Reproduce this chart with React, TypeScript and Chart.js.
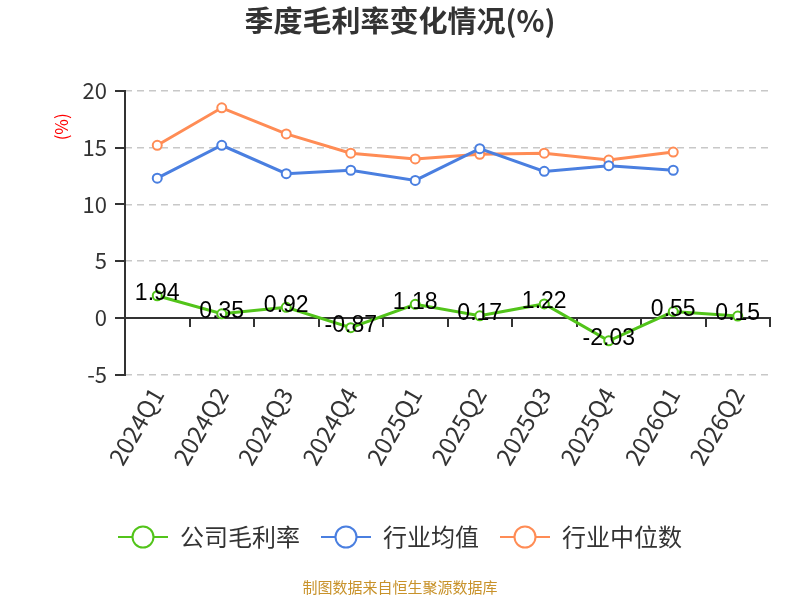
// @ts-nocheck
import React, { useEffect, useRef } from "react";
import { Chart, registerables } from "chart.js";

Chart.register(...registerables);

const quarters = ["2024Q1", "2024Q2", "2024Q3", "2024Q4", "2025Q1", "2025Q2", "2025Q3", "2025Q4", "2026Q1", "2026Q2"];
const companyMargin = [1.94, 0.35, 0.92, -0.87, 1.18, 0.17, 1.22, -2.03, 0.55, 0.15];
const industryAvg = [12.3, 15.2, 12.7, 13.0, 12.1, 14.9, 12.9, 13.4, 13.0, null];
const industryMedian = [15.2, 18.5, 16.2, 14.5, 14.0, 14.4, 14.5, 13.9, 14.6, null];

const GREEN = "#52c41a";
const BLUE = "#4a7fe0";
const ORANGE = "#ff8c55";
const FONT = "'Noto Sans CJK SC', 'Noto Sans', sans-serif";

// legend marker: short line with a hollow circle
const makeMarker = (color) => {
  const c = document.createElement("canvas");
  c.width = 50;
  c.height = 26;
  const ctx = c.getContext("2d");
  ctx.strokeStyle = color;
  ctx.lineWidth = 2;
  ctx.beginPath();
  ctx.moveTo(0, 13);
  ctx.lineTo(50, 13);
  ctx.stroke();
  ctx.beginPath();
  ctx.arc(25, 13, 10.5, 0, Math.PI * 2);
  ctx.fillStyle = "#fff";
  ctx.fill();
  ctx.stroke();
  return c;
};

const valueLabels = {
  id: "valueLabels",
  afterDatasetsDraw(chart) {
    const meta = chart.getDatasetMeta(0);
    const ctx = chart.ctx;
    ctx.save();
    ctx.font = "23px 'Liberation Sans', sans-serif";
    ctx.fillStyle = "#000";
    ctx.textAlign = "center";
    ctx.textBaseline = "middle";
    meta.data.forEach((pt, i) => {
      ctx.fillText(companyMargin[i].toFixed(2), pt.x, pt.y - 2);
    });
    ctx.restore();
  },
};

const unitLabel = {
  id: "unitLabel",
  afterDraw(chart) {
    const { ctx, chartArea } = chart;
    ctx.save();
    ctx.translate(chartArea.left - 63, chartArea.top + 36);
    ctx.rotate(-Math.PI / 2);
    ctx.font = "17px " + FONT;
    ctx.fillStyle = "#ff0000";
    ctx.textAlign = "center";
    ctx.textBaseline = "middle";
    ctx.fillText("(%)", 0, 0);
    ctx.restore();
  },
};

const App = () => {
  const chartRef = useRef(null);
  const chartInstanceRef = useRef(null);

  useEffect(() => {
    if (!chartRef.current) return;
    if (chartInstanceRef.current) chartInstanceRef.current.destroy();

    const mk = (label, data, color) => ({
      label,
      data,
      borderColor: color,
      backgroundColor: "#fff",
      pointBackgroundColor: "#fff",
      pointBorderColor: color,
      pointRadius: 4.5,
      pointBorderWidth: 2,
      borderWidth: 3,
      tension: 0,
      spanGaps: false,
    });

    const markers = [makeMarker(GREEN), makeMarker(BLUE), makeMarker(ORANGE)];

    chartInstanceRef.current = new Chart(chartRef.current, {
      type: "line",
      data: {
        labels: quarters,
        datasets: [
          mk("公司毛利率", companyMargin, GREEN),
          mk("行业均值", industryAvg, BLUE),
          mk("行业中位数", industryMedian, ORANGE),
        ],
      },
      plugins: [valueLabels, unitLabel],
      options: {
        responsive: true,
        maintainAspectRatio: false,
        animation: false,
        layout: { padding: { left: 30, right: 30, top: 4, bottom: 4 } },
        plugins: {
          title: {
            display: true,
            text: "季度毛利率变化情况(%)",
            color: "#333",
            font: { size: 29, weight: "bold", family: FONT },
            padding: { top: 0, bottom: 52 },
          },
          subtitle: {
            display: true,
            position: "bottom",
            text: "制图数据来自恒生聚源数据库",
            color: "#c8922a",
            font: { size: 15, family: FONT },
            padding: { top: 19, bottom: 0 },
          },
          legend: {
            position: "bottom",
            labels: {
              usePointStyle: true,
              pointStyleWidth: 50,
              boxHeight: 24,
              color: "#333",
              font: { size: 24, family: FONT },
              padding: 21,
              generateLabels: (chart) =>
                chart.data.datasets.map((ds, i) => ({
                  text: ds.label,
                  pointStyle: markers[i],
                  fillStyle: "#fff",
                  strokeStyle: ds.borderColor,
                  fontColor: "#333",
                  datasetIndex: i,
                  hidden: false,
                })),
            },
          },
          tooltip: { enabled: false },
        },
        scales: {
          x: {
            offset: true,
            grid: { display: false, drawTicks: false },
            border: { display: false },
            ticks: {
              color: "#333",
              font: { size: 24, family: FONT },
              maxRotation: 60,
              minRotation: 60,
              padding: 8,
            },
            afterFit: (scale) => {
              scale.height += 26;
            },
          },
          x2: {
            position: { y: 0 },
            labels: quarters,
            offset: true,
            grid: { offset: true, drawOnChartArea: false, drawTicks: true, tickLength: 8, color: "#333", lineWidth: 2 },
            border: { display: true, color: "#333", width: 2 },
            ticks: { callback: () => "", font: { size: 1 } },
          },
          y: {
            min: -5,
            max: 20,
            ticks: { display: false, stepSize: 5 },
            grid: {
              color: (c) => (c.tick && c.tick.value === 0 ? "rgba(0,0,0,0)" : "#c8c8c8"),
              lineWidth: 1.5,
              drawTicks: false,
            },
            border: { display: false, dash: [7, 5] },
          },
          y2: {
            position: "left",
            min: -5,
            max: 20,
            ticks: {
              stepSize: 5,
              color: "#333",
              font: { size: 22, family: FONT },
              padding: 8,
            },
            grid: {
              drawOnChartArea: false,
              drawTicks: true,
              tickLength: 10,
              color: "#333",
              lineWidth: 2,
            },
            border: { display: true, color: "#333", width: 2 },
            afterFit: (scale) => {
              scale.width = 95;
            },
          },
        },
      },
    });

    return () => {
      if (chartInstanceRef.current) chartInstanceRef.current.destroy();
    };
  }, []);

  return (
    <div style={{ position: "absolute", left: 0, top: 0, width: 800, height: 600, background: "#fff" }}>
      <canvas ref={chartRef} />
    </div>
  );
};

export default App;
